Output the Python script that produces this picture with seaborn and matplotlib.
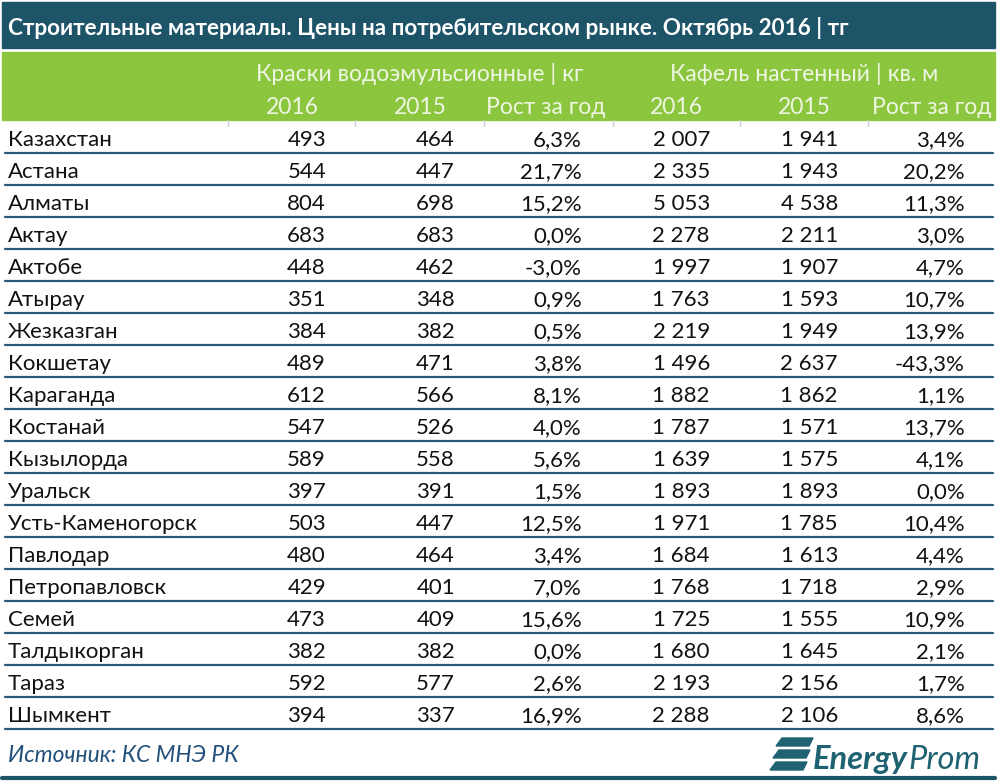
import matplotlib
matplotlib.use('Agg')
import matplotlib.pyplot as plt
from matplotlib.patches import Rectangle, Polygon
import seaborn as sns

# Data
regions = ['Казахстан', 'Астана', 'Алматы', 'Актау', 'Актобе', 'Атырау', 'Жезказган',
           'Кокшетау', 'Караганда', 'Костанай', 'Кызылорда', 'Уральск', 'Усть-Каменогорск',
           'Павлодар', 'Петропавловск', 'Семей', 'Талдыкорган', 'Тараз', 'Шымкент']
paint_2016 = [493, 544, 804, 683, 448, 351, 384, 489, 612, 547, 589, 397, 503, 480, 429, 473, 382, 592, 394]
paint_2015 = [464, 447, 698, 683, 462, 348, 382, 471, 566, 526, 558, 391, 447, 464, 401, 409, 382, 577, 337]
paint_growth = [6.3, 21.7, 15.2, 0.0, -3.0, 0.9, 0.5, 3.8, 8.1, 4.0, 5.6, 1.5, 12.5, 3.4, 7.0, 15.6, 0.0, 2.6, 16.9]
tile_2016 = [2007, 2335, 5053, 2278, 1997, 1763, 2219, 1496, 1882, 1787, 1639, 1893, 1971, 1684, 1768, 1725, 1680, 2193, 2288]
tile_2015 = [1941, 1943, 4538, 2211, 1907, 1593, 1949, 2637, 1862, 1571, 1575, 1893, 1785, 1613, 1718, 1555, 1645, 2156, 2106]
tile_growth = [3.4, 20.2, 11.3, 3.0, 4.7, 10.7, 13.9, -43.3, 1.1, 13.7, 4.1, 0.0, 10.4, 4.4, 2.9, 10.9, 2.1, 1.7, 8.6]

title = 'Строительные материалы. Цены на потребительском рынке. Октябрь 2016 | тг'
group_labels = ['Краски водоэмульсионные | кг', 'Кафель настенный | кв. м']
sub_labels = ['2016', '2015', 'Рост за год', '2016', '2015', 'Рост за год']
source = 'Источник: КС МНЭ РК'

sns.set_theme(style='white')
plt.rcParams['font.family'] = ['Lato', 'DejaVu Sans']

DARK = '#1d5468'
GREEN = '#8cc63f'
LINE = '#2b5a78'
HEAD_TXT = '#eef6e2'
LOGO = '#1f6373'


def fmt_int(v):
    return f'{v:,}'.replace(',', ' ')


def fmt_pct(v):
    return f'{v:.1f}%'.replace('.', ',')


def main():
    fig = plt.figure(figsize=(9.98, 7.82), dpi=100)
    ax = fig.add_axes([0, 0, 1, 1])
    ax.set_xlim(0, 998)
    ax.set_ylim(782, 0)
    ax.axis('off')

    # title bar
    ax.add_patch(Rectangle((2, 2), 993, 46, color=DARK))
    ax.text(8, 26, title, color='white', fontsize=16.2, fontweight='bold',
            va='center_baseline', ha='left')

    # green header
    ax.add_patch(Rectangle((2, 52), 993, 68, color=GREEN))
    ax.text(420, 72, group_labels[0], color=HEAD_TXT, fontsize=16.5, ha='center', va='center_baseline')
    ax.text(804, 72, group_labels[1], color=HEAD_TXT, fontsize=16.5, ha='center', va='center_baseline')
    sub_x = [292, 420, 546, 676, 804, 932]
    for x, lab in zip(sub_x, sub_labels):
        ax.text(x, 106, lab, color=HEAD_TXT, fontsize=16.5, ha='center', va='center_baseline')
    for x in [228, 355, 484, 613, 740, 868]:
        ax.plot([x, x], [120, 126], color='#d0d0d0', lw=1)

    # body
    col_right = [326, 455, 582, 710, 838, 965]
    y0, dy = 138, 32
    for i, name in enumerate(regions):
        y = y0 + dy * i
        cells = [fmt_int(paint_2016[i]), fmt_int(paint_2015[i]), fmt_pct(paint_growth[i]),
                 fmt_int(tile_2016[i]), fmt_int(tile_2015[i]), fmt_pct(tile_growth[i])]
        ax.text(8, y, name, color='#111111', fontsize=16, ha='left', va='center_baseline')
        for x, c in zip(col_right, cells):
            ax.text(x, y, c, color='#111111', fontsize=16, ha='right', va='center_baseline')
        ax.plot([5, 993], [y + 15, y + 15], color=LINE, lw=1.6)

    # source
    ax.text(8, 753, source, color='#23507a', fontsize=16.5, style='italic', ha='left',
            va='center_baseline')

    # logo
    for k in range(3):
        yy = 738 + k * 12
        ax.add_patch(Polygon([[782 - k * 3, yy], [813 - k * 3, yy], [809 - k * 3, yy + 8],
                              [776 - k * 3, yy + 8]], closed=True, color=LOGO))
    t = ax.text(813, 757, 'Energy', color=LOGO, fontsize=23.5, fontweight='bold', style='italic',
                ha='left', va='center_baseline')
    fig.canvas.draw()
    bb = t.get_window_extent().transformed(ax.transData.inverted())
    ax.text(bb.x1 + 1, 757, 'Prom', color=LOGO, fontsize=23.5, style='italic', ha='left',
            va='center_baseline')

    # bottom rule
    ax.plot([2, 995], [778, 778], color=DARK, lw=3)

    fig.savefig('out.png', dpi=100)
    plt.close(fig)


if __name__ == '__main__':
    main()
